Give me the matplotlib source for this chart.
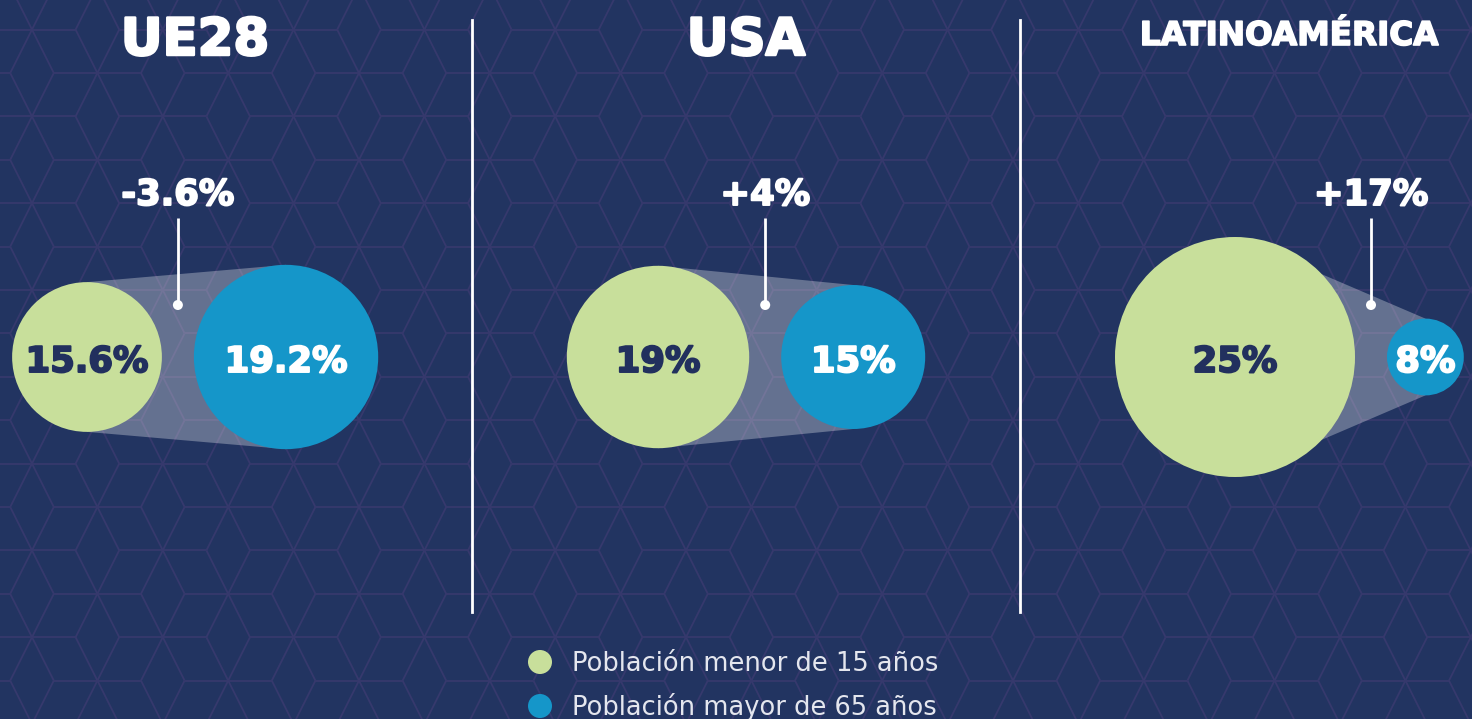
import matplotlib
matplotlib.use("Agg")
import matplotlib.pyplot as plt
from matplotlib.patches import Circle, Polygon
from matplotlib.collections import LineCollection
import matplotlib.patheffects as pe

# ---- data ----
regions = ["UE28", "USA", "LATINOAMÉRICA"]
young = [15.6, 19, 25]      # Población menor de 15 años (%)
old = [19.2, 15, 8]         # Población mayor de 65 años (%)
changes = ["-3.6%", "+4%", "+17%"]
legend_labels = ["Población menor de 15 años", "Población mayor de 65 años"]

# ---- style ----
BG = "#223461"
PATTERN = "#36396d"
GREEN = "#c8df9b"
BLUE = "#1596c9"
DARK = "#22305e"
SHADE = "#ffffff"

W, H = 1472, 719
fig = plt.figure(figsize=(W / 100, H / 100), dpi=100, facecolor=BG)
ax = fig.add_axes([0, 0, 1, 1])
ax.set_xlim(0, W)
ax.set_ylim(H, 0)
ax.set_facecolor(BG)
ax.axis("off")

# ---- decorative background: tumbling-blocks line pattern ----
A, HH = 43.6, 43.4
X0, Y0 = 10.2 - 10 * A / 2, 73.0
def P(i, j):
    return (X0 + i * A + j * A / 2, Y0 + j * HH)
segs = []
nbrs = [(1, 0), (0, 1), (-1, 1)]
for j in range(-3, 18):
    for i in range(-20, 45):
        c0 = (i - j) % 3 == 0
        for di, dj in nbrs:
            i2, j2 = i + di, j + dj
            c1 = (i2 - j2) % 3 == 0
            if not c0 and not c1:
                segs.append([P(i, j), P(i2, j2)])
        if c0:
            for di, dj in [(1, 0), (-1, 1), (0, -1)]:
                segs.append([P(i, j), P(i + di, j + dj)])
ax.add_collection(LineCollection(segs, colors=PATTERN, linewidths=1.3, zorder=0))

def bold_fx(color, w=1.4):
    return [pe.Stroke(linewidth=w, foreground=color), pe.Normal()]

SCALE = 4.8          # px radius per percentage point
GAP = 32
CY = 357
green_cx = [87, 658, 1235]
title_x = [195, 746, 1289]
title_y = [55, 55, 45]
title_fs = [37, 37, 23.5]

for i in range(3):
    rg = young[i] * SCALE
    rb = old[i] * SCALE
    gx = green_cx[i]
    bx = gx + rg + GAP + rb
    poly = Polygon([(gx, CY - rg), (bx, CY - rb), (bx, CY + rb), (gx, CY + rg)],
                   closed=True, facecolor=SHADE, alpha=0.3, edgecolor="none", zorder=1)
    ax.add_patch(poly)
    ax.add_patch(Circle((gx, CY), rg, facecolor=GREEN, edgecolor="none", zorder=2))
    ax.add_patch(Circle((bx, CY), rb, facecolor=BLUE, edgecolor="none", zorder=2))
    ax.text(gx, CY + 15, f"{young[i]:g}%", color=DARK, fontsize=25.5, fontweight="bold",
            ha="center", va="baseline", zorder=3, path_effects=bold_fx(DARK))
    ax.text(bx, CY + 15, f"{old[i]:g}%", color="white", fontsize=25.5, fontweight="bold",
            ha="center", va="baseline", zorder=3, path_effects=bold_fx("white"))
    mx = gx + rg + GAP / 2
    ax.plot([mx, mx], [218, 304], color="white", lw=2, zorder=3, solid_capstyle="butt")
    ax.add_patch(Circle((mx, 305), 5, facecolor="white", edgecolor="none", zorder=3))
    ax.text(mx, 205, changes[i], color="white", fontsize=25.5, fontweight="bold",
            ha="center", va="baseline", zorder=3, path_effects=bold_fx("white"))
    ax.text(title_x[i], title_y[i], regions[i], color="white", fontsize=title_fs[i],
            fontweight="bold", ha="center", va="baseline", zorder=3,
            path_effects=bold_fx("white", 1.8 if i < 2 else 1.2))

for x in (472, 1020):
    ax.plot([x, x], [20, 612], color="white", lw=2, zorder=3)

for j, (lab, col) in enumerate(zip(legend_labels, [GREEN, BLUE])):
    y = 662 + j * 44
    ax.add_patch(Circle((540, y), 12, facecolor=col, edgecolor="none", zorder=3))
    ax.text(572, y + 9, lab, color="#e4e6ee", fontsize=18.5, fontweight="normal",
            ha="left", va="baseline", zorder=3)

fig.savefig("out.png", dpi=100, facecolor=BG)
